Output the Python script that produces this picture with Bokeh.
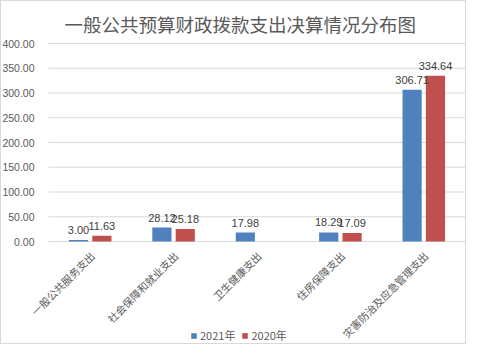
import math
from bokeh.plotting import figure
from bokeh.models import (ColumnDataSource, Range1d, NumeralTickFormatter,
                          Legend, LegendItem, FixedTicker)
from bokeh.core.properties import value
from bokeh.embed import file_html
from bokeh.resources import INLINE

categories = ["一般公共服务支出", "社会保障和就业支出", "卫生健康支出", "住房保障支出", "灾害防治及应急管理支出"]
values_2021 = [3.00, 28.12, 17.98, 18.29, 306.71]
values_2020 = [11.63, 25.18, float("nan"), 17.09, 334.64]
series_names = ["2021年", "2020年"]
y_ticks = [0, 50, 100, 150, 200, 250, 300, 350, 400]
title_text = "一般公共预算财政拨款支出决算情况分布图"

BLUE = "#4F81BD"
RED = "#C0504D"
GRAY = "#595959"
GRID = "#d9d9d9"

def fmt(v):
    return "" if (v is None or (isinstance(v, float) and math.isnan(v))) else f"{v:.2f}"

n = len(categories)
idx = list(range(n))
x_left, x_right = -0.5, n - 0.5          # edges of the category slots
DODGE, BAR_W = 0.14, 0.23

src = ColumnDataSource(dict(
    cat=categories,
    x=idx,
    x21=[i - DODGE for i in idx],
    x20=[i + DODGE for i in idx],
    v21=values_2021,
    v20=values_2020,
    l21=[fmt(v) for v in values_2021],
    l20=[fmt(v) for v in values_2020],
))
grid_src = ColumnDataSource(dict(y=y_ticks, x0=[x_left] * len(y_ticks), x1=[x_right] * len(y_ticks)))

# the frame covers the whole canvas; layout in pixels -> data ranges
W, H = 466, 344
slot_px = (464 - 47) / n
x_start = x_left - 47 / slot_px
x_end = x_right + (W - 464) / slot_px
px_per_unit = (240 - 42) / 400
y_end = 400 + 42 / px_per_unit
y_start = -(H - 240) / px_per_unit

p = figure(width=W, height=H, x_range=Range1d(x_start, x_end), y_range=Range1d(y_start, y_end),
           x_axis_location=None, output_backend="svg", toolbar_location=None,
           min_border_left=0, min_border_right=0, min_border_top=0, min_border_bottom=0)
p.styles = {"border": "1px solid #d9d9d9", "box-sizing": "border-box"}
p.outline_line_color = None
p.xgrid.visible = False
p.ygrid.visible = False

# chart title
p.text(x=[x_start + 63 / slot_px], y=[400 + (42 - 22.5) / px_per_unit], text=[title_text],
       text_align="left", text_baseline="middle",
       text_font=value("Noto Sans CJK SC"), text_font_size="18.5px", text_color=GRAY)

# horizontal gridlines at the y ticks, spanning the category slots
p.segment(x0="x0", x1="x1", y0="y", y1="y", source=grid_src, line_color=GRID, line_width=1)

r1 = p.vbar(x="x21", top="v21", width=BAR_W, source=src, fill_color=BLUE, line_color=None)
r2 = p.vbar(x="x20", top="v20", width=BAR_W, source=src, fill_color=RED, line_color=None)

lab_kw = dict(text_font=value("Liberation Sans"), text_font_size="11px", text_color="#404040",
              text_align="center", text_baseline="alphabetic", y_offset=-10, source=src)
p.text(x="x21", y="v21", text="l21", **lab_kw)
p.text(x="x20", y="v20", text="l20", **lab_kw)

# category labels, rotated 45 degrees below the zero line
p.text(x="x", y=0, text="cat", source=src, angle=math.pi / 4,
       text_align="right", text_baseline="top", x_offset=-3, y_offset=7,
       text_font=value("Noto Sans CJK SC"), text_font_size="10.5px", text_color=GRAY)

# y axis drawn at the left edge of the category slots
p.yaxis.fixed_location = x_left
p.yaxis.ticker = FixedTicker(ticks=y_ticks)
p.yaxis.formatter = NumeralTickFormatter(format="0.00")
p.yaxis.axis_line_color = None
p.yaxis.major_tick_line_color = None
p.yaxis.minor_tick_line_color = None
p.yaxis.major_label_text_font = "Liberation Sans"
p.yaxis.major_label_text_font_size = "10.5px"
p.yaxis.major_label_text_color = GRAY
p.yaxis.major_label_standoff = 8

legend = Legend(items=[LegendItem(label=series_names[0], renderers=[r1]),
                       LegendItem(label=series_names[1], renderers=[r2])],
                orientation="horizontal", location=(189, 2),
                label_text_font="Noto Sans CJK SC", label_text_font_size="11px",
                label_text_color=GRAY, glyph_width=7, glyph_height=7, label_height=14,
                label_standoff=3, spacing=6, padding=0, margin=0,
                border_line_color=None, background_fill_alpha=0)
p.add_layout(legend, "center")

open("out.html", "w").write(file_html(p, INLINE))
